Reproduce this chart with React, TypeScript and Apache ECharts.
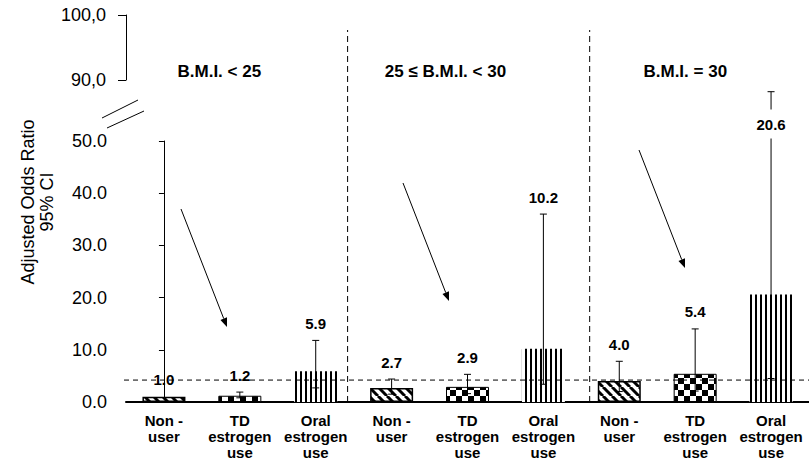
import React, { useEffect, useRef } from "react";
import * as echarts from "echarts";

// ---------- data ----------
const categories = [
  "Non -\nuser", "TD\nestrogen\nuse", "Oral\nestrogen\nuse",
  "Non -\nuser", "TD\nestrogen\nuse", "Oral\nestrogen\nuse",
  "Non -\nuser", "TD\nestrogen\nuse", "Oral\nestrogen\nuse",
];
const useKind = ["none", "td", "oral", "none", "td", "oral", "none", "td", "oral"];
const groupTitles = ["B.M.I. < 25", "25 \u2264 B.M.I. < 30", "B.M.I. = 30"];
const oddsRatio = [1.0, 1.2, 5.9, 2.7, 2.9, 10.2, 4.0, 5.4, 20.6];
const ciLow: (number | null)[] = [null, 0.8, 2.7, 1.5, 1.6, 3.4, 2.0, 2.1, 4.5];
const ciHigh: (number | null)[] = [null, 1.9, 11.8, 4.4, 5.3, 36.0, 7.8, 14.0, 88.2];
const mainAxisRange = [0, 50];
const upperAxisRange = [90, 100];
const referenceOR = 4.2;

// ---------- layout ----------
const FONT = '"Liberation Sans", Arial, Helvetica, sans-serif';
const GRID_MAIN = { left: 126, right: -2, top: 141, bottom: 54 };
const GRID_UP = { left: 126, right: -2, top: 15, height: 65 };
const TITLE_Y = 71;
const DIVIDER_TOP = 30;
const DIVIDER_AT = [2.42, 5.61];
const TITLE_AT = [0.73, 3.71, 6.87];
const LABEL_LIFT = 17;

function makePatterns() {
  const mk = (w: number, h: number, draw: (c: CanvasRenderingContext2D) => void) => {
    const cv = document.createElement("canvas");
    cv.width = w;
    cv.height = h;
    const ctx = cv.getContext("2d")!;
    ctx.fillStyle = "#fff";
    ctx.fillRect(0, 0, w, h);
    draw(ctx);
    return cv;
  };
  const diag = mk(9, 9, (c) => {
    c.strokeStyle = "#000";
    c.lineWidth = 3;
    for (const a of [-9, 0, 9]) {
      c.beginPath();
      c.moveTo(a, 0);
      c.lineTo(a + 9, 9);
      c.stroke();
    }
  });
  const checker = mk(12, 12, (c) => {
    c.fillStyle = "#000";
    c.fillRect(0, 0, 6, 6);
    c.fillRect(6, 6, 6, 6);
  });
  const vert = mk(5, 5, (c) => {
    c.fillStyle = "#000";
    c.fillRect(0, 0, 2, 5);
  });
  return { none: diag, td: checker, oral: vert } as Record<string, HTMLCanvasElement>;
}

function yPix(api: any, v: number) {
  if (v <= mainAxisRange[1]) return api.coord([0, v])[1];
  return GRID_UP.top + ((upperAxisRange[1] - v) * GRID_UP.height) / (upperAxisRange[1] - upperAxisRange[0]);
}

export default function App() {
  const ref = useRef<HTMLDivElement>(null);
  useEffect(() => {
    if (!ref.current) return;
    const chart = echarts.init(ref.current, undefined, { renderer: "svg" });
    const pats = makePatterns();

    const barData = oddsRatio.map((v, i) => ({
      value: v,
      itemStyle: {
        color: { image: pats[useKind[i]], repeat: "repeat" },
        borderColor: useKind[i] === "oral" ? "#bbb" : "#000",
        borderWidth: useKind[i] === "oral" ? 0 : useKind[i] === "none" ? 1.5 : 1,
      },
    }));

    const errData = oddsRatio
      .map((v, i) => [i, ciLow[i], ciHigh[i], v])
      .filter((d) => d[2] != null);

    const labelData = oddsRatio.map((v, i) => [i, v, ciHigh[i] == null ? v : ciHigh[i]]);

    const arrowStarts = [[181, 209], [403, 183], [639, 150]];
    const AV = [46, 118];
    const alen = Math.hypot(AV[0], AV[1]);
    const ux = AV[0] / alen, uy = AV[1] / alen;
    const arrowEls: any[] = [];
    arrowStarts.forEach(([sx, sy]) => {
      const tx = sx + AV[0], ty = sy + AV[1];
      const bx = tx - ux * 9, by = ty - uy * 9;
      const px = -uy * 3.5, py = ux * 3.5;
      arrowEls.push({
        type: "line",
        shape: { x1: sx, y1: sy, x2: bx, y2: by },
        style: { stroke: "#000", lineWidth: 1 },
      });
      arrowEls.push({
        type: "polygon",
        shape: { points: [[tx, ty], [bx + px, by + py], [bx - px, by - py]] },
        style: { fill: "#000" },
      });
    });

    const option: any = {
      animation: false,
      backgroundColor: "#fff",
      textStyle: { fontFamily: FONT },
      grid: [
        { ...GRID_MAIN, containLabel: false },
        { ...GRID_UP, containLabel: false },
      ],
      xAxis: [
        {
          type: "category",
          gridIndex: 0,
          data: categories,
          axisLine: { show: true, lineStyle: { color: "#000", width: 2 } },
          axisTick: { show: false },
          axisLabel: {
            interval: 0,
            color: "#000",
            fontWeight: "bold",
            fontSize: 15,
            lineHeight: 16,
            margin: 10,
            fontFamily: FONT,
          },
          splitLine: { show: false },
        },
        { type: "value", gridIndex: 0, min: -0.5, max: 8.5, show: false },
        { type: "category", gridIndex: 1, data: categories, show: false },
      ],
      yAxis: [
        {
          type: "value",
          gridIndex: 0,
          min: mainAxisRange[0],
          max: mainAxisRange[1],
          interval: 10,
          offset: 2,
          axisLine: { show: true, lineStyle: { color: "#000", width: 1 } },
          axisTick: { show: true, length: 5, lineStyle: { color: "#000" } },
          splitLine: { show: false },
          axisLabel: {
            formatter: (v: number) => v.toFixed(1),
            fontSize: 18,
            color: "#000",
            margin: 17,
            fontFamily: FONT,
          },
        },
        {
          type: "value",
          gridIndex: 1,
          min: upperAxisRange[0],
          max: upperAxisRange[1],
          interval: 10,
          axisLine: { show: true, lineStyle: { color: "#000", width: 1 } },
          axisTick: { show: true, length: 8, lineStyle: { color: "#000" } },
          splitLine: { show: false },
          axisLabel: {
            formatter: (v: number) => v.toFixed(1).replace(".", ","),
            fontSize: 18,
            color: "#000",
            margin: 20,
            padding: [10, 0, 0, 0],
            fontFamily: FONT,
          },
        },
      ],
      series: [
        {
          type: "bar",
          xAxisIndex: 0,
          yAxisIndex: 0,
          barWidth: 43,
          data: barData,
          z: 2,
        },
        {
          type: "custom",
          name: "guides",
          xAxisIndex: 1,
          yAxisIndex: 0,
          z: 3,
          clip: false,
          data: [[0, 0]],
          renderItem: (_p: any, api: any) => {
            const y0 = api.coord([0, 0])[1];
            const yRef = api.coord([0, referenceOR])[1];
            const xL = api.coord([-0.5, 0])[0] - 2;
            const xR = api.coord([8.5, 0])[0];
            const children: any[] = [
              {
                type: "line",
                shape: { x1: xL, y1: yRef, x2: xR, y2: yRef },
                style: { stroke: "#000", lineWidth: 1, lineDash: [5, 4] },
              },
            ];
            DIVIDER_AT.forEach((d) => {
              const x = api.coord([d, 0])[0];
              children.push({
                type: "line",
                shape: { x1: x, y1: y0, x2: x, y2: DIVIDER_TOP },
                style: { stroke: "#000", lineWidth: 1, lineDash: [6, 4] },
              });
            });
            groupTitles.forEach((t, k) => {
              children.push({
                type: "text",
                style: {
                  text: t,
                  x: api.coord([TITLE_AT[k], 0])[0],
                  y: TITLE_Y,
                  fill: "#000",
                  font: `bold 17px ${FONT}`,
                  align: "center",
                  verticalAlign: "middle",
                },
              });
            });
            return { type: "group", children };
          },
        },
        {
          type: "custom",
          name: "ci",
          xAxisIndex: 0,
          yAxisIndex: 0,
          z: 4,
          clip: false,
          data: errData,
          renderItem: (_p: any, api: any) => {
            const i = api.value(0);
            const lo = api.value(1);
            const hi = api.value(2);
            const v = api.value(3);
            const x = api.coord([i, 0])[0];
            const yHi = yPix(api, hi);
            const yLo = isNaN(lo) ? yPix(api, v) : yPix(api, lo);
            const cw = 3.5;
            const children: any[] = [
              { type: "line", shape: { x1: x, y1: yLo, x2: x, y2: yHi }, style: { stroke: "#000", lineWidth: 1 } },
              { type: "line", shape: { x1: x - cw, y1: yHi, x2: x + cw, y2: yHi }, style: { stroke: "#000", lineWidth: 1 } },
            ];
            if (!isNaN(lo)) {
              children.push({ type: "line", shape: { x1: x - cw, y1: yLo, x2: x + cw, y2: yLo }, style: { stroke: "#000", lineWidth: 1 } });
            }
            return { type: "group", children };
          },
        },
        {
          type: "custom",
          name: "labels",
          xAxisIndex: 0,
          yAxisIndex: 0,
          z: 5,
          clip: false,
          data: labelData,
          renderItem: (_p: any, api: any) => {
            const i = api.value(0);
            const v = api.value(1);
            const top = api.value(2);
            const over = top > mainAxisRange[1];
            const x = api.coord([i, 0])[0];
            const y = yPix(api, Math.min(top, mainAxisRange[1])) - LABEL_LIFT;
            return {
              type: "text",
              style: {
                text: v.toFixed(1),
                x,
                y,
                fill: "#000",
                font: `bold 15px ${FONT}`,
                align: "center",
                verticalAlign: "middle",
                backgroundColor: over ? "#fff" : undefined,
                padding: over ? [7, 3] : 0,
              },
            };
          },
        },
      ],
      graphic: [
        {
          type: "text",
          x: 37,
          y: 202,
          rotation: Math.PI / 2,
          style: {
            text: "Adjusted Odds Ratio\n95% CI",
            font: `18px ${FONT}`,
            fill: "#000",
            align: "center",
            verticalAlign: "middle",
            lineHeight: 19,
          },
        },
        { type: "line", shape: { x1: 102, y1: 118, x2: 138, y2: 100 }, style: { stroke: "#000", lineWidth: 1 } },
        { type: "line", shape: { x1: 107, y1: 128, x2: 144, y2: 111 }, style: { stroke: "#000", lineWidth: 1 } },
        ...arrowEls,
      ],
    };
    chart.setOption(option);
    return () => chart.dispose();
  }, []);
  return (
    <div
      ref={ref}
      style={{ position: "fixed", left: 0, top: 0, width: 809, height: 460, background: "#fff" }}
    />
  );
}
